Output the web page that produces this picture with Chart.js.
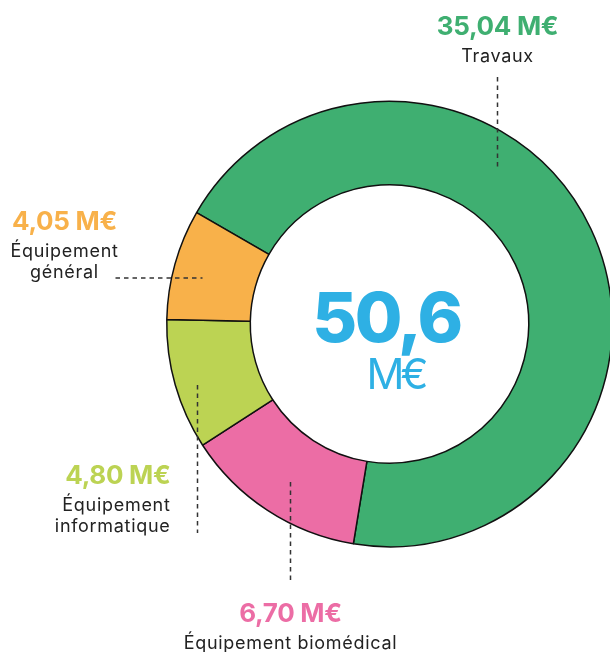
<!DOCTYPE html>
<html>
<head>
<meta charset="utf-8">
<script src="https://cdn.jsdelivr.net/npm/chart.js@4"></script>
<style>
  html, body { margin: 0; padding: 0; background: #fff; overflow: hidden; }
  #wrap { position: relative; width: 620px; height: 652px; }
</style>
</head>
<body>
<div id="wrap"><canvas id="graph"></canvas></div>
<script>
// Chart data (clockwise from the top-left boundary)
const categories = ['Travaux', 'Équipement biomédical', 'Équipement informatique', 'Équipement général'];
const values = [35.04, 6.70, 4.80, 4.05];
const valueLabels = ['35,04 M€', '6,70 M€', '4,80 M€', '4,05 M€'];
const nameLines = [['Travaux'], ['Équipement biomédical'], ['Équipement', 'informatique'], ['Équipement', 'général']];
const colors = ['#3FAF71', '#EC6DA5', '#BCD353', '#F8B14A'];
const totalLabel = '50,6';
const unitLabel = 'M€';

// Label placement, offsets from the doughnut centre
const labelLayout = [
  { x: 108, y: -289, align: 'center', line: [108, -247, 108, -156] },
  { x: -99, y: 298, align: 'center', line: [-99, 158, -99, 259] },
  { x: -219, y: 160, align: 'right', line: [-192, 61, -192, 209] },
  { x: -325, y: -94, align: 'center', line: [-274, -46, -187, -46] }
];

const labelPlugin = {
  id: 'labels',
  afterDraw(chart) {
    const ctx = chart.ctx;
    const arc = chart.getDatasetMeta(0).data[0];
    const cx = arc.x, cy = arc.y;
    ctx.save();

    // leader lines
    ctx.strokeStyle = '#333';
    ctx.lineWidth = 1.5;
    ctx.setLineDash([4.5, 4]);
    labelLayout.forEach(l => {
      ctx.beginPath();
      ctx.moveTo(cx + l.line[0], cy + l.line[1]);
      ctx.lineTo(cx + l.line[2], cy + l.line[3]);
      ctx.stroke();
    });
    ctx.setLineDash([]);

    // value + name labels
    labelLayout.forEach((l, i) => {
      ctx.textAlign = l.align;
      ctx.textBaseline = 'alphabetic';
      ctx.fillStyle = colors[i];
      ctx.font = '700 26px Inter';
      ctx.letterSpacing = '-0.3px';
      ctx.fillText(valueLabels[i], cx + l.x, cy + l.y);
      ctx.fillStyle = '#222';
      ctx.font = '400 18px Inter';
      ctx.letterSpacing = '0.7px';
      nameLines[i].forEach((t, j) => {
        ctx.fillText(t, cx + l.x, cy + l.y + 27 + j * 21);
      });
    });

    // centre total
    ctx.fillStyle = '#2EB0E4';
    ctx.textAlign = 'center';
    ctx.font = '800 69px Inter';
    ctx.letterSpacing = '-2.5px';
    ctx.fillText(totalLabel, cx - 3, cy + 18);
    ctx.font = '400 42px Inter';
    ctx.letterSpacing = '-4px';
    ctx.fillText(unitLabel, cx + 6, cy + 65);
    ctx.restore();
  }
};

const ctx = document.getElementById('graph').getContext('2d');
new Chart(ctx, {
  type: 'doughnut',
  data: {
    labels: categories,
    datasets: [{
      data: values,
      backgroundColor: colors,
      borderColor: '#111',
      borderWidth: 1.5
    }]
  },
  options: {
    responsive: true,
    maintainAspectRatio: false,
    animation: false,
    rotation: 300,
    cutout: '62.5%',
    layout: {
      padding: { left: 166, right: 7, top: 100.5, bottom: 104.5 }
    },
    plugins: {
      legend: { display: false },
      tooltip: { enabled: false }
    }
  },
  plugins: [labelPlugin]
});
</script>
</body>
</html>
